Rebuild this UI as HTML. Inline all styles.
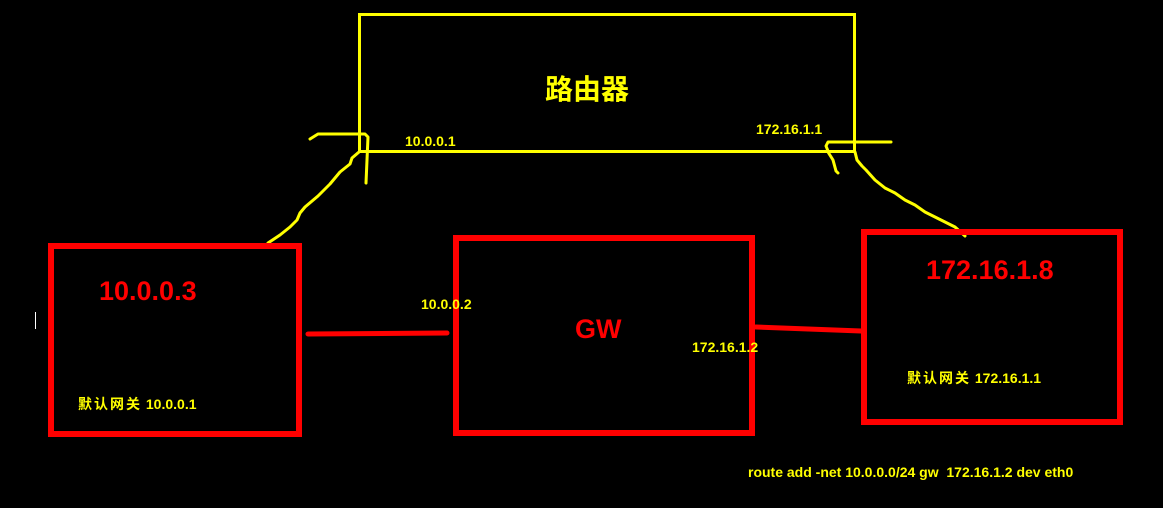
<!DOCTYPE html>
<html><head><meta charset="utf-8"><style>
body{margin:0;background:#000;width:1163px;height:508px;overflow:hidden;position:relative;font-family:"Liberation Sans","Noto Sans CJK SC",sans-serif;}
.t{position:absolute;font-weight:bold;white-space:nowrap;line-height:1;}
.y{color:#ffff00;font-size:14px;}
.r{color:#ff0000;font-size:27px;}
.c{letter-spacing:2px;}
</style></head><body>
<svg width="1163" height="508" style="position:absolute;left:0;top:0">
<rect x="359.5" y="14.5" width="495" height="137" fill="none" stroke="#ffff00" stroke-width="3"/>
<g fill="none" stroke="#ffff00" stroke-width="3" stroke-linejoin="round" stroke-linecap="round">
<polyline points="310,139 318,134 365,134 368,137 366,183"/>
<polyline points="359,152 352,158 350,164 340,172 330,184 318,196 305,207 300,213 297,220 290,227 280,235 268,243"/>
<polyline points="828,151 826,146 828,142 891,142"/>
<polyline points="828,152 833,160 836,171 838,173"/>
<polyline points="855,152 857,160 862,166 866,170 875,180 885,188 895,193 905,200 915,205 925,212 935,217 945,222 955,227 965,236"/>
</g>
<g fill="none" stroke="#ff0000" stroke-width="6">
<rect x="51" y="246" width="248" height="188"/>
<rect x="456" y="238" width="296" height="195"/>
<rect x="864" y="232" width="256" height="190"/>
</g>
<g stroke="#ff0000" stroke-width="5" stroke-linecap="round">
<line x1="308" y1="334" x2="447" y2="333"/>
<line x1="756" y1="327" x2="861" y2="331"/>
</g>
<line x1="35.5" y1="312" x2="35.5" y2="329" stroke="#fff" stroke-width="1"/>
</svg>
<div class="t" style="left:545px;top:76px;color:#ffff00;font-size:28px;">路由器</div>
<div class="t y" style="left:405px;top:134px;">10.0.0.1</div>
<div class="t y" style="left:756px;top:122px;">172.16.1.1</div>
<div class="t r" style="left:99px;top:278px;">10.0.0.3</div>
<div class="t r" style="left:575px;top:316px;">GW</div>
<div class="t r" style="left:926px;top:257px;">172.16.1.8</div>
<div class="t y" style="left:421px;top:297px;">10.0.0.2</div>
<div class="t y" style="left:692px;top:340px;">172.16.1.2</div>
<div class="t y" style="left:78px;top:397px;"><span class="c">默认网关</span> 10.0.0.1</div>
<div class="t y" style="left:907px;top:371px;"><span class="c">默认网关</span> 172.16.1.1</div>
<div class="t y" style="left:748px;top:465px;">route add -net 10.0.0.0/24 gw&nbsp; 172.16.1.2 dev eth0</div>
</body></html>
